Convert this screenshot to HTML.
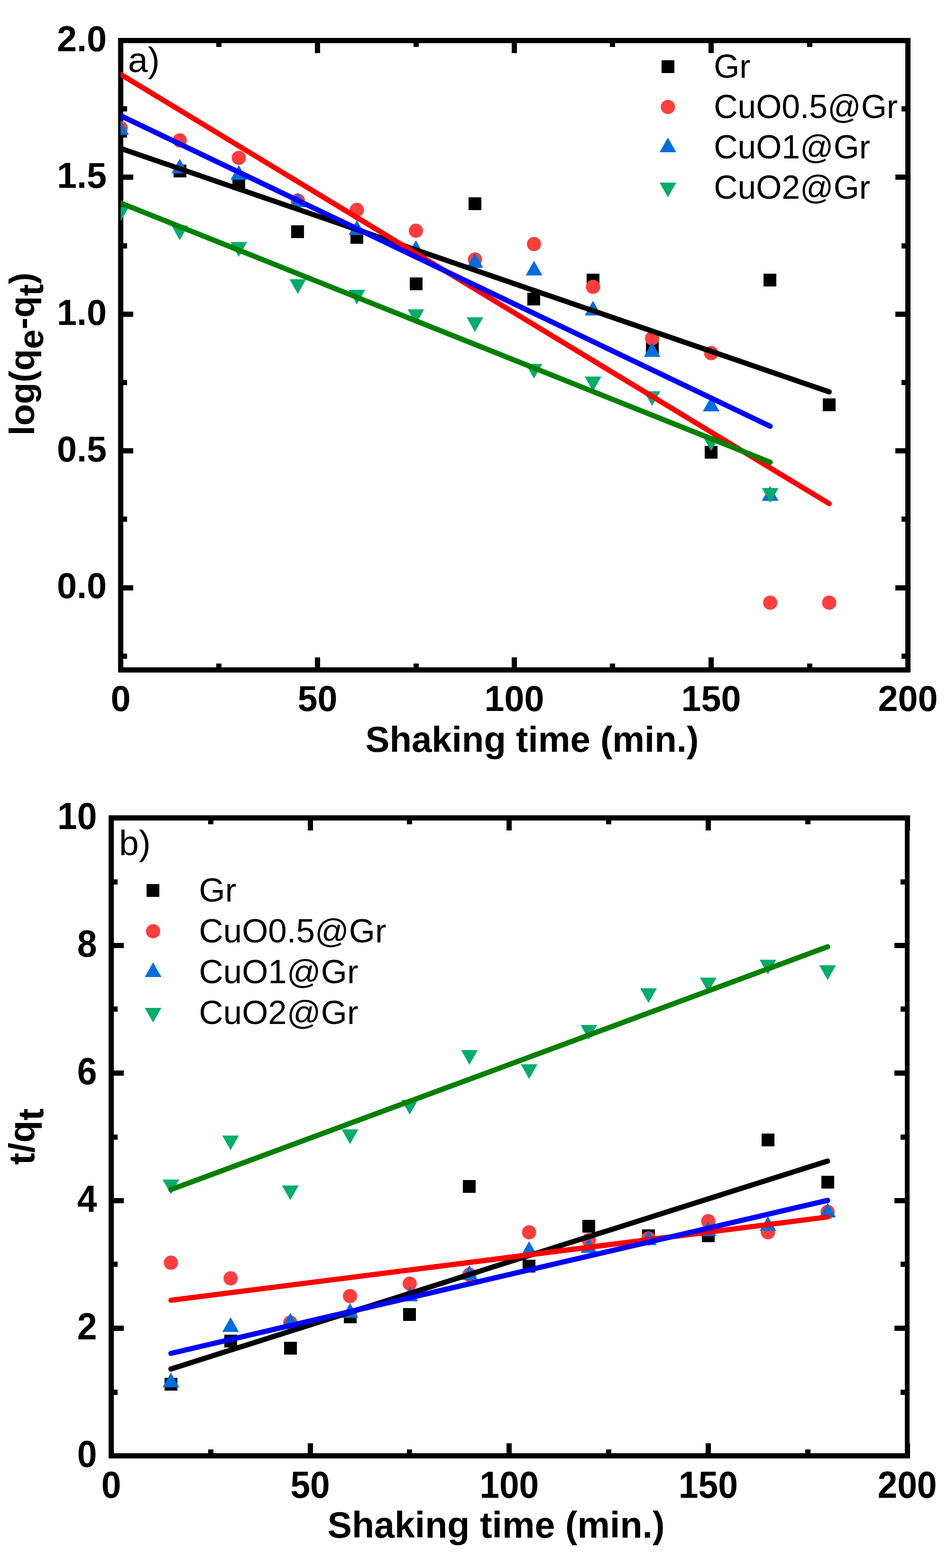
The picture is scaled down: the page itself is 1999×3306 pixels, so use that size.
<!DOCTYPE html>
<html><head><meta charset="utf-8"><title>Kinetics plots</title>
<style>html,body{margin:0;padding:0;background:#fff;}svg{display:block;}text{font-family:"Liberation Sans", Arial, sans-serif;fill:#000;}</style></head><body>
<svg width="1999" height="3306" viewBox="0 0 1999 3306">
<rect width="1999" height="3306" fill="#fff"/>
<defs>
<clipPath id="ca"><rect x="254.5" y="85.5" width="1660" height="1327"/></clipPath>
<clipPath id="cb"><rect x="234.5" y="1724.5" width="1678.5" height="1345"/></clipPath>
</defs>
<path d="M249 80h11v1338h-11zM1909 80h11v1338h-11zM249 80h1671v11h-1671zM249 1407h1671v11h-1671zM249 80h32v11h-32zM1888 80h32v11h-32zM249 368h32v11h-32zM1888 368h32v11h-32zM249 657h32v11h-32zM1888 657h32v11h-32zM249 945h32v11h-32zM1888 945h32v11h-32zM249 1234h32v11h-32zM1888 1234h32v11h-32zM249 224h19v11h-19zM1901 224h19v11h-19zM249 513h19v11h-19zM1901 513h19v11h-19zM249 801h19v11h-19zM1901 801h19v11h-19zM249 1089h19v11h-19zM1901 1089h19v11h-19zM249 1378h19v11h-19zM1901 1378h19v11h-19zM249 1386h11v32h-11zM249 80h11v32h-11zM664 1386h11v32h-11zM664 80h11v32h-11zM1079 1386h11v32h-11zM1079 80h11v32h-11zM1494 1386h11v32h-11zM1494 80h11v32h-11zM1909 1386h11v32h-11zM1909 80h11v32h-11zM456 1399h11v19h-11zM456 80h11v19h-11zM872 1399h11v19h-11zM872 80h11v19h-11zM1286 1399h11v19h-11zM1286 80h11v19h-11zM1702 1399h11v19h-11zM1702 80h11v19h-11z" fill="#000" shape-rendering="crispEdges"/>
<g clip-path="url(#ca)">
<rect x="241" y="263" width="27" height="27" fill="#000000"/>
<rect x="366" y="347" width="27" height="27" fill="#000000"/>
<rect x="490" y="373" width="27" height="27" fill="#000000"/>
<rect x="614" y="475" width="27" height="27" fill="#000000"/>
<rect x="739" y="487" width="27" height="27" fill="#000000"/>
<rect x="864" y="585" width="27" height="27" fill="#000000"/>
<rect x="988" y="416" width="27" height="27" fill="#000000"/>
<rect x="1112" y="617" width="27" height="27" fill="#000000"/>
<rect x="1237" y="577" width="27" height="27" fill="#000000"/>
<rect x="1362" y="720" width="27" height="27" fill="#000000"/>
<rect x="1486" y="940" width="27" height="27" fill="#000000"/>
<rect x="1610" y="577" width="27" height="27" fill="#000000"/>
<rect x="1735" y="840" width="27" height="27" fill="#000000"/>
<circle cx="254.5" cy="270" r="15" fill="#FF3D3D"/>
<circle cx="379" cy="296.1" r="15" fill="#FF3D3D"/>
<circle cx="503.5" cy="332.9" r="15" fill="#FF3D3D"/>
<circle cx="628" cy="422.9" r="15" fill="#FF3D3D"/>
<circle cx="752.5" cy="442.5" r="15" fill="#FF3D3D"/>
<circle cx="877" cy="486.5" r="15" fill="#FF3D3D"/>
<circle cx="1001.5" cy="547.2" r="15" fill="#FF3D3D"/>
<circle cx="1126" cy="514.6" r="15" fill="#FF3D3D"/>
<circle cx="1250.5" cy="604.8" r="15" fill="#FF3D3D"/>
<circle cx="1375" cy="713.3" r="15" fill="#FF3D3D"/>
<circle cx="1499.5" cy="744.6" r="15" fill="#FF3D3D"/>
<circle cx="1624" cy="1270.7" r="15" fill="#FF3D3D"/>
<circle cx="1748.5" cy="1270.7" r="15" fill="#FF3D3D"/>
<polygon points="254.5,253.5 272,284.5 237,284.5" fill="#006DE0"/>
<polygon points="379,334.5 396.5,365.5 361.5,365.5" fill="#006DE0"/>
<polygon points="503.5,348 521,379 486,379" fill="#006DE0"/>
<polygon points="628,405.8 645.5,436.8 610.5,436.8" fill="#006DE0"/>
<polygon points="752.5,464.2 770,495.2 735,495.2" fill="#006DE0"/>
<polygon points="877,506.4 894.5,537.4 859.5,537.4" fill="#006DE0"/>
<polygon points="1001.5,533.8 1019,564.8 984,564.8" fill="#006DE0"/>
<polygon points="1126,549.7 1143.5,580.7 1108.5,580.7" fill="#006DE0"/>
<polygon points="1250.5,634.2 1268,665.2 1233,665.2" fill="#006DE0"/>
<polygon points="1375,721.5 1392.5,752.5 1357.5,752.5" fill="#006DE0"/>
<polygon points="1499.5,836.2 1517,867.2 1482,867.2" fill="#006DE0"/>
<polygon points="1624,1024.9 1641.5,1055.9 1606.5,1055.9" fill="#006DE0"/>
<polygon points="237,436.1 272,436.1 254.5,467.1" fill="#00AD69"/>
<polygon points="361.5,475.6 396.5,475.6 379,506.6" fill="#00AD69"/>
<polygon points="486,510.2 521,510.2 503.5,541.2" fill="#00AD69"/>
<polygon points="610.5,588.8 645.5,588.8 628,619.8" fill="#00AD69"/>
<polygon points="735,611.1 770,611.1 752.5,642.1" fill="#00AD69"/>
<polygon points="859.5,652.2 894.5,652.2 877,683.2" fill="#00AD69"/>
<polygon points="984,669.1 1019,669.1 1001.5,700.1" fill="#00AD69"/>
<polygon points="1108.5,767.2 1143.5,767.2 1126,798.2" fill="#00AD69"/>
<polygon points="1233,794 1268,794 1250.5,825" fill="#00AD69"/>
<polygon points="1357.5,825.1 1392.5,825.1 1375,856.1" fill="#00AD69"/>
<polygon points="1482,920 1517,920 1499.5,951" fill="#00AD69"/>
<polygon points="1606.5,1029 1641.5,1029 1624,1060" fill="#00AD69"/>
<line x1="254.5" y1="312.9" x2="1748.5" y2="826.3" stroke="#000000" stroke-width="11" stroke-linecap="round"/>
<line x1="254.5" y1="156.8" x2="1748.5" y2="1061.9" stroke="#FF0000" stroke-width="11" stroke-linecap="round"/>
<line x1="254.5" y1="244" x2="1624" y2="898.8" stroke="#0000FF" stroke-width="11" stroke-linecap="round"/>
<line x1="254.5" y1="428" x2="1624" y2="974.6" stroke="#008000" stroke-width="11" stroke-linecap="round"/>
</g>
<g font-weight="bold" font-size="75.5">
<text x="225" y="107.8" text-anchor="end">2.0</text>
<text x="225" y="396.2" text-anchor="end">1.5</text>
<text x="225" y="684.6" text-anchor="end">1.0</text>
<text x="225" y="973" text-anchor="end">0.5</text>
<text x="225" y="1261.4" text-anchor="end">0.0</text>
<text x="254.5" y="1499" text-anchor="middle">0</text>
<text x="669.5" y="1499" text-anchor="middle">50</text>
<text x="1084.5" y="1499" text-anchor="middle">100</text>
<text x="1499.5" y="1499" text-anchor="middle">150</text>
<text x="1914.5" y="1499" text-anchor="middle">200</text>
<text x="770.6" y="1584.8" font-size="76.2">Shaking time (min.)</text>
<text transform="translate(72,746.3) rotate(-90)" text-anchor="middle" font-size="74.6">log(q<tspan dy="19">e</tspan><tspan dy="-19">-q</tspan><tspan dy="19">t</tspan><tspan dy="-19">)</tspan></text>
</g>
<text x="270" y="152" font-size="75">a)</text>
<rect x="1395" y="127" width="27" height="27" fill="#000000"/>
<circle cx="1408.4" cy="225.4" r="15" fill="#FF3D3D"/>
<polygon points="1408.4,289.9 1425.9,320.9 1390.9,320.9" fill="#006DE0"/>
<polygon points="1390.9,384.9 1425.9,384.9 1408.4,415.9" fill="#00AD69"/>
<text x="1505.2" y="164.4" font-size="69.6">Gr</text>
<text x="1505.2" y="249.4" font-size="69.6">CuO0.5@Gr</text>
<text x="1505.2" y="334.4" font-size="69.6">CuO1@Gr</text>
<text x="1505.2" y="419.4" font-size="69.6">CuO2@Gr</text>
<path d="M229 1719h11v1356h-11zM1908 1719h10v1356h-10zM229 1719h1689v11h-1689zM229 3064h1689v11h-1689zM229 3064h32v11h-32zM1886 3064h32v11h-32zM229 2795h32v11h-32zM1886 2795h32v11h-32zM229 2526h32v11h-32zM1886 2526h32v11h-32zM229 2257h32v11h-32zM1886 2257h32v11h-32zM229 1988h32v11h-32zM1886 1988h32v11h-32zM229 1719h32v11h-32zM1886 1719h32v11h-32zM229 2930h19v11h-19zM1899 2930h19v11h-19zM229 2660h19v11h-19zM1899 2660h19v11h-19zM229 2392h19v11h-19zM1899 2392h19v11h-19zM229 2122h19v11h-19zM1899 2122h19v11h-19zM229 1854h19v11h-19zM1899 1854h19v11h-19zM229 3043h11v32h-11zM229 1719h11v32h-11zM649 3043h11v32h-11zM649 1719h11v32h-11zM1068 3043h11v32h-11zM1068 1719h11v32h-11zM1488 3043h11v32h-11zM1488 1719h11v32h-11zM1908 3043h11v32h-11zM1908 1719h11v32h-11zM439 3056h11v19h-11zM439 1719h11v19h-11zM858 3056h11v19h-11zM858 1719h11v19h-11zM1278 3056h11v19h-11zM1278 1719h11v19h-11zM1698 3056h11v19h-11zM1698 1719h11v19h-11z" fill="#000" shape-rendering="crispEdges"/>
<g clip-path="url(#cb)">
<rect x="347" y="2905" width="27" height="27" fill="#000000"/>
<rect x="473" y="2814" width="27" height="27" fill="#000000"/>
<rect x="599" y="2829" width="27" height="27" fill="#000000"/>
<rect x="725" y="2763" width="27" height="27" fill="#000000"/>
<rect x="850" y="2758" width="27" height="27" fill="#000000"/>
<rect x="976" y="2488" width="27" height="27" fill="#000000"/>
<rect x="1102" y="2656" width="27" height="27" fill="#000000"/>
<rect x="1228" y="2572" width="27" height="27" fill="#000000"/>
<rect x="1354" y="2592" width="27" height="27" fill="#000000"/>
<rect x="1480" y="2592" width="27" height="27" fill="#000000"/>
<rect x="1606" y="2390" width="27" height="27" fill="#000000"/>
<rect x="1732" y="2479" width="27" height="27" fill="#000000"/>
<circle cx="360.39" cy="2662.3" r="15" fill="#FF3D3D"/>
<circle cx="486.27" cy="2695.3" r="15" fill="#FF3D3D"/>
<circle cx="612.16" cy="2788.5" r="15" fill="#FF3D3D"/>
<circle cx="738.05" cy="2732.7" r="15" fill="#FF3D3D"/>
<circle cx="863.94" cy="2706.5" r="15" fill="#FF3D3D"/>
<circle cx="989.83" cy="2687.6" r="15" fill="#FF3D3D"/>
<circle cx="1115.71" cy="2598.2" r="15" fill="#FF3D3D"/>
<circle cx="1241.6" cy="2614.7" r="15" fill="#FF3D3D"/>
<circle cx="1367.49" cy="2611.2" r="15" fill="#FF3D3D"/>
<circle cx="1493.38" cy="2574.8" r="15" fill="#FF3D3D"/>
<circle cx="1619.26" cy="2598.2" r="15" fill="#FF3D3D"/>
<circle cx="1745.15" cy="2555.3" r="15" fill="#FF3D3D"/>
<polygon points="360.39,2894.1 377.89,2925.1 342.89,2925.1" fill="#006DE0"/>
<polygon points="486.27,2777.3 503.77,2808.3 468.77,2808.3" fill="#006DE0"/>
<polygon points="612.16,2768.1 629.66,2799.1 594.66,2799.1" fill="#006DE0"/>
<polygon points="738.05,2747.5 755.55,2778.5 720.55,2778.5" fill="#006DE0"/>
<polygon points="863.94,2712.8 881.44,2743.8 846.44,2743.8" fill="#006DE0"/>
<polygon points="989.83,2667.4 1007.33,2698.4 972.33,2698.4" fill="#006DE0"/>
<polygon points="1115.71,2617 1133.21,2648 1098.21,2648" fill="#006DE0"/>
<polygon points="1241.6,2610.5 1259.1,2641.5 1224.1,2641.5" fill="#006DE0"/>
<polygon points="1367.49,2594.2 1384.99,2625.2 1349.99,2625.2" fill="#006DE0"/>
<polygon points="1493.38,2575.2 1510.88,2606.2 1475.88,2606.2" fill="#006DE0"/>
<polygon points="1619.26,2564.2 1636.76,2595.2 1601.76,2595.2" fill="#006DE0"/>
<polygon points="1745.15,2535.9 1762.65,2566.9 1727.65,2566.9" fill="#006DE0"/>
<polygon points="342.89,2487 377.89,2487 360.39,2518" fill="#00AD69"/>
<polygon points="468.77,2394.3 503.77,2394.3 486.27,2425.3" fill="#00AD69"/>
<polygon points="594.66,2499.4 629.66,2499.4 612.16,2530.4" fill="#00AD69"/>
<polygon points="720.55,2381.3 755.55,2381.3 738.05,2412.3" fill="#00AD69"/>
<polygon points="846.44,2319.1 881.44,2319.1 863.94,2350.1" fill="#00AD69"/>
<polygon points="972.33,2214.1 1007.33,2214.1 989.83,2245.1" fill="#00AD69"/>
<polygon points="1098.21,2244 1133.21,2244 1115.71,2275" fill="#00AD69"/>
<polygon points="1224.1,2161.1 1259.1,2161.1 1241.6,2192.1" fill="#00AD69"/>
<polygon points="1349.99,2083.8 1384.99,2083.8 1367.49,2114.8" fill="#00AD69"/>
<polygon points="1475.88,2061.2 1510.88,2061.2 1493.38,2092.2" fill="#00AD69"/>
<polygon points="1601.76,2023.4 1636.76,2023.4 1619.26,2054.4" fill="#00AD69"/>
<polygon points="1727.65,2035.2 1762.65,2035.2 1745.15,2066.2" fill="#00AD69"/>
<line x1="360.39" y1="2886.4" x2="1745.15" y2="2448" stroke="#000000" stroke-width="11" stroke-linecap="round"/>
<line x1="360.39" y1="2741.5" x2="1745.15" y2="2565.9" stroke="#FF0000" stroke-width="11" stroke-linecap="round"/>
<line x1="360.39" y1="2853.5" x2="1745.15" y2="2530.8" stroke="#0000FF" stroke-width="11" stroke-linecap="round"/>
<line x1="360.39" y1="2508.2" x2="1745.15" y2="1996.2" stroke="#008000" stroke-width="11" stroke-linecap="round"/>
</g>
<g font-weight="bold" font-size="76.5">
<text transform="translate(204.5,3092.5) scale(0.98,1.035)" text-anchor="end">0</text>
<text transform="translate(204.5,2823.5) scale(0.98,1.035)" text-anchor="end">2</text>
<text transform="translate(204.5,2554.5) scale(0.98,1.035)" text-anchor="end">4</text>
<text transform="translate(204.5,2285.5) scale(0.98,1.035)" text-anchor="end">6</text>
<text transform="translate(204.5,2016.5) scale(0.98,1.035)" text-anchor="end">8</text>
<text transform="translate(204.5,1747.5) scale(0.98,1.035)" text-anchor="end">10</text>
<text transform="translate(234.5,3158) scale(0.98,1.035)" text-anchor="middle">0</text>
<text transform="translate(654.12,3158) scale(0.98,1.035)" text-anchor="middle">50</text>
<text transform="translate(1073.75,3158) scale(0.98,1.035)" text-anchor="middle">100</text>
<text transform="translate(1493.38,3158) scale(0.98,1.035)" text-anchor="middle">150</text>
<text transform="translate(1913,3158) scale(0.98,1.035)" text-anchor="middle">200</text>
<text x="690.6" y="3241.8" font-size="77.1">Shaking time (min.)</text>
<text transform="translate(72,2396.5) rotate(-90)" text-anchor="middle">t/q<tspan dy="19">t</tspan></text>
</g>
<text x="251" y="1802.8" font-size="75">b)</text>
<rect x="309" y="1864" width="27" height="27" fill="#000000"/>
<circle cx="322.8" cy="1963.5" r="15" fill="#FF3D3D"/>
<polygon points="322.8,2029 340.3,2060 305.3,2060" fill="#006DE0"/>
<polygon points="305.3,2125 340.3,2125 322.8,2156" fill="#00AD69"/>
<text x="419.6" y="1901" font-size="70.9">Gr</text>
<text x="419.6" y="1987" font-size="70.9">CuO0.5@Gr</text>
<text x="419.6" y="2073" font-size="70.9">CuO1@Gr</text>
<text x="419.6" y="2159" font-size="70.9">CuO2@Gr</text>
</svg></body></html>
